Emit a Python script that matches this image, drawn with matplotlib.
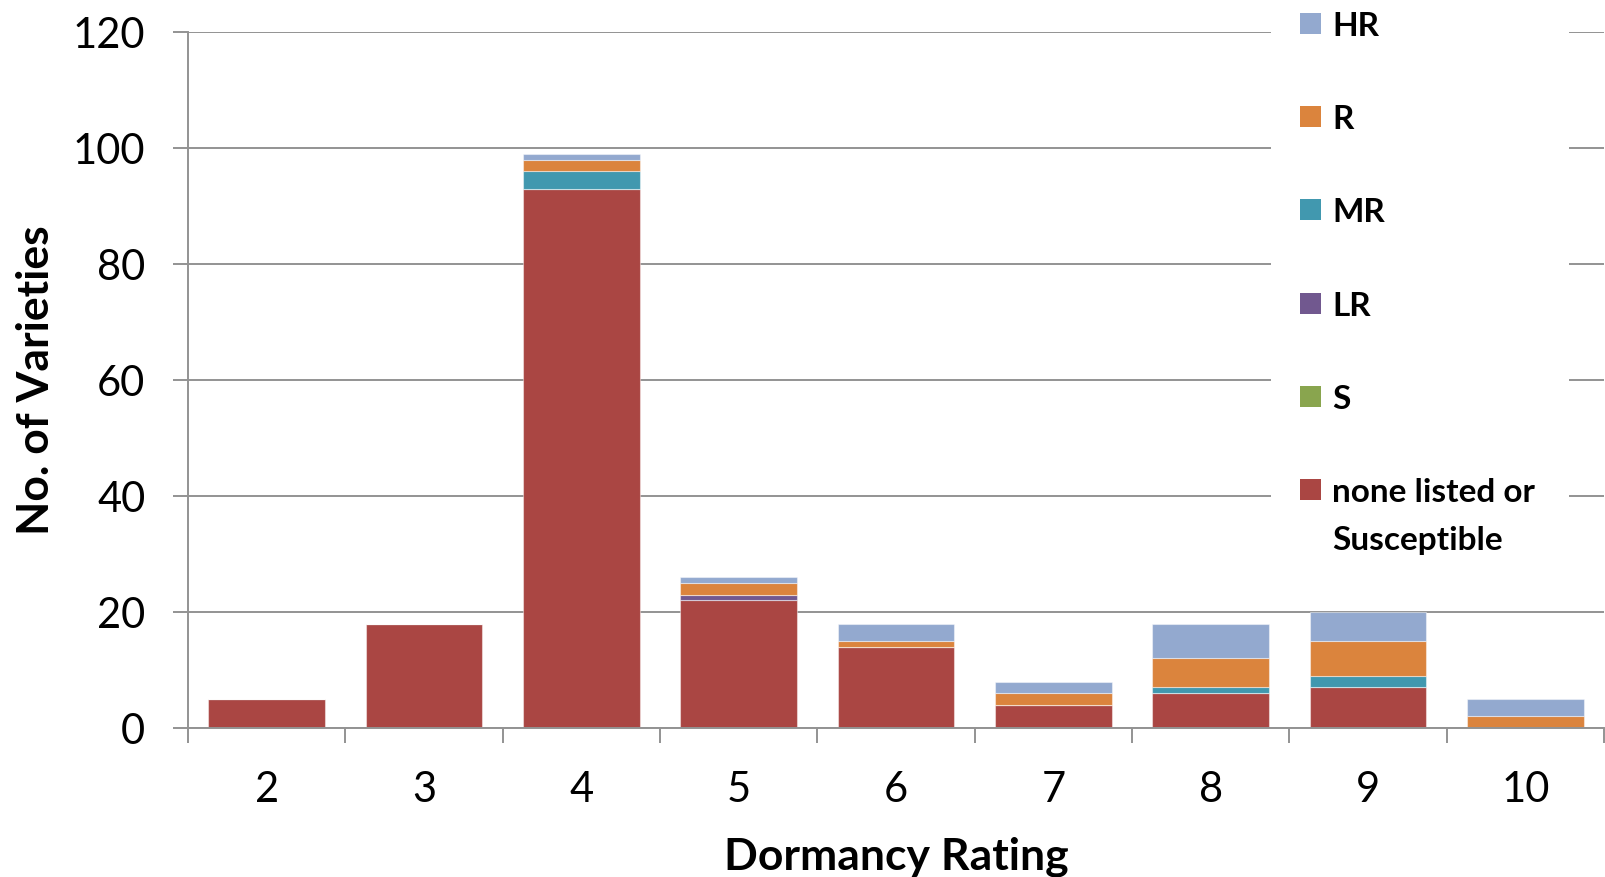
import matplotlib
matplotlib.use("Agg")
import matplotlib.pyplot as plt
from matplotlib.patches import Rectangle
import numpy as np

# ---- data ----
ratings = ['2', '3', '4', '5', '6', '7', '8', '9', '10']
none_listed = [5, 18, 93, 22, 14, 4, 6, 7, 0]
S = [0, 0, 0, 0, 0, 0, 0, 0, 0]
LR = [0, 0, 0, 1, 0, 0, 0, 0, 0]
MR = [0, 0, 3, 0, 0, 0, 1, 2, 0]
R = [0, 0, 2, 2, 1, 2, 5, 6, 2]
HR = [0, 0, 1, 1, 3, 2, 6, 5, 3]

series_names = ['none listed or\nSusceptible', 'S', 'LR', 'MR', 'R', 'HR']
series_values = [none_listed, S, LR, MR, R, HR]
series_colors = ['#AA4643', '#89A54E', '#71588F', '#4198AF', '#DB843D', '#93A9CF']

W, H = 1606, 878
plt.rcParams['font.family'] = ['Lato', 'DejaVu Sans']

fig = plt.figure(figsize=(W / 100, H / 100), dpi=100)
ax = fig.add_axes([188 / W, 1 - 729 / H, (1604 - 188) / W, (729 - 33) / H])

x = np.arange(len(ratings))
bottom = np.zeros(len(ratings))
for name, vals, col in zip(series_names, series_values, series_colors):
    v = np.array(vals, dtype=float)
    ax.bar(x, v, width=0.74, bottom=bottom, color=col,
           edgecolor=(1, 1, 1, 0.45), linewidth=0.8, zorder=2)
    bottom += v

ax.set_xlim(-0.5, len(ratings) - 0.5)
ax.set_ylim(0, 120)
ax.set_yticks(np.arange(0, 121, 20))
ax.set_xticks(x)
ax.set_xticklabels(ratings)
ax.set_xticks(np.arange(-0.5, len(ratings), 1.0), minor=True)

gray = '#939393'
ax.set_axisbelow(True)
ax.yaxis.grid(True, color=gray, linewidth=1.4)
for s in ['top', 'right']:
    ax.spines[s].set_visible(False)
for s in ['left', 'bottom']:
    ax.spines[s].set_color(gray)
    ax.spines[s].set_linewidth(1.4)

ax.tick_params(axis='y', which='major', direction='out', length=10.8, width=1.4,
               color=gray, labelsize=30, pad=20)
ax.tick_params(axis='x', which='major', length=0, labelsize=30, pad=30)
ax.tick_params(axis='x', which='minor', direction='out', length=10.8, width=1.4,
               color=gray)

# axis titles
fig.text(36 / W, 1 - 380 / H, 'No. of Varieties', rotation=90, ha='center',
         va='center', fontsize=32, fontweight='bold')
fig.text(896 / W, 1 - 870 / H, 'Dormancy Rating', ha='center', va='baseline',
         fontsize=32, fontweight='bold')

# legend (drawn manually to match the layout: white box over the gridlines)
fig.add_artist(Rectangle((1271 / W, 1 - 575 / H), (1569 - 1271) / W, 575 / H,
                         transform=fig.transFigure, facecolor='white',
                         edgecolor='none', zorder=3))
order = list(range(len(series_names)))[::-1]  # HR at top
for i, idx in enumerate(order):
    top = 14 + 93.2 * i
    fig.add_artist(Rectangle((1300 / W, 1 - (top + 21) / H), 21 / W, 21 / H,
                             transform=fig.transFigure,
                             facecolor=series_colors[idx], edgecolor='none',
                             zorder=4))
    lines = series_names[idx].split('\n')
    for j, ln in enumerate(lines):
        fig.text(1332 / W, 1 - (top + 22 + 48.3 * j) / H, ln, ha='left',
                 va='baseline', fontsize=24, fontweight='bold', zorder=5)

fig.savefig('out.png', dpi=100)
